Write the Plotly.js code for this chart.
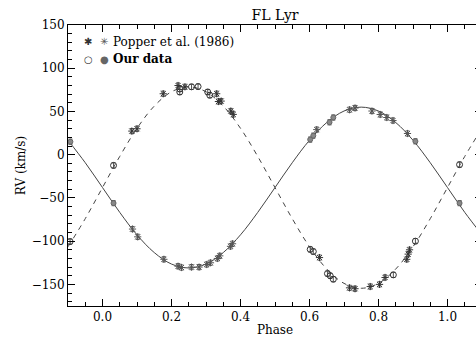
<!DOCTYPE html>
<html>
<head>
<meta charset="utf-8">
<script src="https://cdn.plot.ly/plotly-3.0.1.min.js"></script>
<style>
html,body{margin:0;padding:0;background:#fff;overflow:hidden;}
#chart{width:490px;height:345px;}
</style>
</head>
<body>
<div id="chart"></div>
<script>
// Fitted orbit curves
const curvePhase = [-0.10,-0.05,0.00,0.05,0.10,0.15,0.20,0.25,0.30,0.35,0.40,0.45,0.50,0.55,0.60,0.65,0.70,0.75,0.80,0.85,0.90,0.95,1.00,1.05,1.10];
const primaryCurve = [16.7,-9.3,-38,-66.7,-92.7,-113.2,-126.5,-131,-126.5,-113.2,-92.7,-66.7,-38,-9.3,16.7,37.2,50.5,55,50.5,37.2,16.7,-9.3,-38,-66.7,-92.7];
const secondaryCurve = [-106.5,-74,-38,-2,30.5,56.2,72.8,78.5,72.8,56.2,30.5,-2,-38,-74,-106.5,-132.2,-148.8,-154.5,-148.8,-132.2,-106.5,-74,-38,-2,30.5];

// Popper et al. (1986) - primary
const popPriPhase = [0.087,0.102,0.178,0.219,0.229,0.258,0.280,0.302,0.313,0.333,0.340,0.371,0.377,0.621,0.716,0.732,0.781,0.805,0.824,0.842,0.884];
const popPriRV    = [-86,-95,-121,-129,-130.5,-130,-130,-127,-125,-120,-117,-106,-103,29,52,54,50.5,46.5,43,39.5,24.5];
// Popper et al. (1986) - secondary
const popSecPhase = [0.085,0.100,0.176,0.219,0.239,0.331,0.336,0.344,0.372,0.379,0.629,0.716,0.732,0.776,0.803,0.819,0.882,0.886,0.890];
const popSecRV    = [27.3,30,70.5,80,78.5,70.5,61.5,62,50.5,46.6,-119,-154,-155,-152.5,-150,-142,-121,-115,-110];
// Our data - primary (filled)
const ourPriPhase = [-0.093,0.032,0.602,0.611,0.658,0.669,0.907,1.035];
const ourPriRV    = [15,-56,17.5,22,37.5,43,15.5,-56];
// Our data - secondary (open)
const ourSecPhase = [-0.094,0.032,0.224,0.224,0.258,0.277,0.305,0.311,0.602,0.611,0.652,0.660,0.669,0.843,0.907,1.035];
const ourSecRV    = [-100.5,-12.4,76,72.5,78.5,78.8,72.5,68.8,-109.5,-112,-137.5,-140,-144,-139,-100,-11.5];

const xTicks = [0.0,0.2,0.4,0.6,0.8,1.0];
const yTicks = [-150,-100,-50,0,50,100,150];

const serif = 'DejaVu Serif';
const errStyle = {type:'constant', value:3, thickness:1, width:2, color:'#555'};

const traces = [
  {x:curvePhase, y:primaryCurve, mode:'lines', line:{color:'#444', width:1, shape:'spline'}, hoverinfo:'skip'},
  {x:curvePhase, y:secondaryCurve, mode:'lines', line:{color:'#444', width:1, dash:'5px,5px', shape:'spline'}, hoverinfo:'skip'},
  {x:popPriPhase, y:popPriRV, mode:'markers', marker:{symbol:'asterisk-open', size:6, color:'#555', line:{color:'#555', width:1}}, error_y:errStyle},
  {x:popSecPhase, y:popSecRV, mode:'markers', marker:{symbol:'asterisk-open', size:6, color:'#333', line:{color:'#333', width:1}}, error_y:errStyle},
  {x:ourPriPhase, y:ourPriRV, mode:'markers', marker:{symbol:'circle', size:5, color:'#888', line:{color:'#666', width:1}}, error_y:errStyle},
  {x:ourSecPhase, y:ourSecRV, mode:'markers', marker:{symbol:'circle-open', size:6, color:'#333', line:{color:'#333', width:1}}, error_y:errStyle}
];

const axisCommon = {
  showgrid:false, zeroline:false, showline:true, linecolor:'#000', linewidth:1,
  mirror:'ticks', ticks:'inside', ticklen:7, tickcolor:'#000', tickwidth:1,
  tickfont:{family:serif, size:12, color:'#000'}
};

const layout = {
  width:490, height:345,
  margin:{l:68, r:8, t:25, b:39},
  paper_bgcolor:'#fff', plot_bgcolor:'#fff',
  showlegend:false,
  title:{text:'FL Lyr', font:{family:serif, size:14, color:'#000'}, x:0.5, xref:'paper', y:1-15/345, yref:'container', yanchor:'middle'},
  xaxis:Object.assign({}, axisCommon, {
    range:[-0.1,1.1], tickvals:xTicks, ticktext:xTicks.map(v=>v.toFixed(1)),
    minor:{dtick:0.05, tick0:0, ticks:'inside', ticklen:4, tickcolor:'#000'},
    title:{text:'Phase', font:{family:serif, size:12, color:'#000'}, standoff:2}
  }),
  yaxis:Object.assign({}, axisCommon, {
    range:[-175,150], tickvals:yTicks,
    minor:{dtick:10, tick0:0, ticks:'inside', ticklen:4, tickcolor:'#000'},
    title:{text:'RV (km/s)', font:{family:serif, size:12, color:'#000'}, standoff:3}
  }),
  annotations:[
    {xref:'paper', yref:'paper', x:(88-68)/414, y:(306-41.7)/281, text:'✱', showarrow:false, font:{family:'DejaVu Sans', size:10, color:'#333'}, xanchor:'center', yanchor:'middle'},
    {xref:'paper', yref:'paper', x:(104-68)/414, y:(306-41.7)/281, text:'✳', showarrow:false, font:{family:'DejaVu Sans', size:10, color:'#555'}, xanchor:'center', yanchor:'middle'},
    {xref:'paper', yref:'paper', x:(111-68)/414, y:(306-41.7)/281, text:'Popper et al. (1986)', showarrow:false, font:{family:serif, size:12, color:'#000'}, xanchor:'left', yanchor:'middle'},
    {xref:'paper', yref:'paper', x:(88-68)/414, y:(306-59)/281, text:'○', showarrow:false, font:{family:'DejaVu Sans', size:10, color:'#333'}, xanchor:'center', yanchor:'middle'},
    {xref:'paper', yref:'paper', x:(104-68)/414, y:(306-59)/281, text:'●', showarrow:false, font:{family:'DejaVu Sans', size:10, color:'#666'}, xanchor:'center', yanchor:'middle'},
    {xref:'paper', yref:'paper', x:(111-68)/414, y:(306-59)/281, text:'<b>Our data</b>', showarrow:false, font:{family:serif, size:12, color:'#000'}, xanchor:'left', yanchor:'middle'}
  ]
};

Plotly.newPlot('chart', traces, layout, {displayModeBar:false, staticPlot:true});
</script>
</body>
</html>
